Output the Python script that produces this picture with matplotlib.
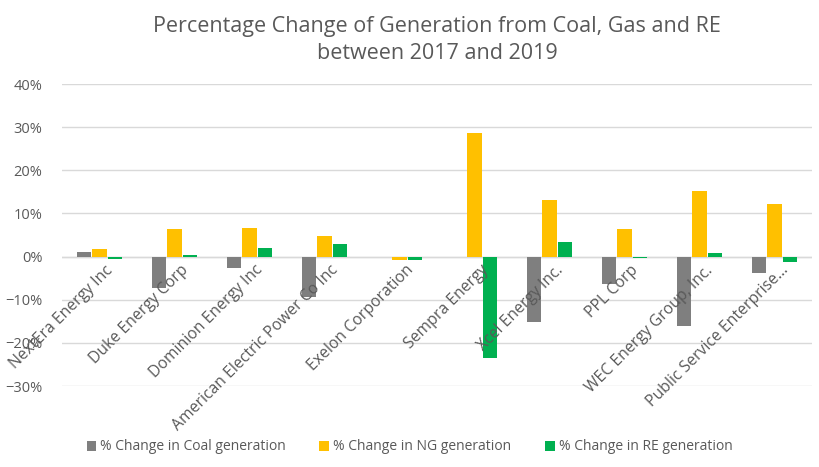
import numpy as np
from matplotlib import pyplot as plt
from matplotlib.ticker import PercentFormatter

plt.rcParams['font.family'] = ['Open Sans', 'DejaVu Sans']

companies = ['NextEra Energy Inc', 'Duke Energy Corp', 'Dominion Energy Inc',
             'American Electric Power Co Inc', 'Exelon Corporation', 'Sempra Energy',
             'Xcel Energy Inc.', 'PPL Corp', 'WEC Energy Group, Inc.',
             'Public Service Enterprise...']
coal = [1.1, -7.3, -2.7, -9.4, 0.0, 0.0, -15.1, -6.3, -16.0, -3.8]
ng = [1.7, 6.3, 6.6, 4.8, -0.8, 28.7, 13.0, 6.3, 15.3, 12.3]
re = [-0.5, 0.3, 2.0, 2.9, -0.8, -23.5, 3.3, -0.3, 0.8, -1.3]

labels = ['% Change in Coal generation', '% Change in NG generation',
          '% Change in RE generation']
colors = ['#7F7F7F', '#FFC000', '#00B050']
grey = '#595959'

#---- Figure

fig = plt.figure(figsize=(8.19, 4.67), dpi=100)
ax = fig.add_axes([62 / 819, 1 - 386 / 467, 750 / 819, (386 - 84) / 467])

x = np.arange(len(companies))
w = 0.187
step = 0.213
for k, (vals, lab, col) in enumerate(zip([coal, ng, re], labels, colors)):
    ax.bar(x + (k - 1) * step, vals, width=w, color=col, label=lab, zorder=3)

ax.set_xlim(-0.5, len(companies) - 0.5)
ax.set_ylim(-30, 40)
ax.set_yticks(np.arange(-30, 41, 10))
ax.yaxis.set_major_formatter(PercentFormatter(decimals=0))
ax.tick_params(axis='y', length=0, labelsize=10.5, labelcolor=grey, pad=14)
ax.set_xticks([])
ax.grid(axis='y', color='#D9D9D9', linewidth=1, zorder=0)
for s in ax.spines.values():
    s.set_visible(False)
ax.axhline(0, color='#D9D9D9', linewidth=1, zorder=2)

# category labels rotated at the zero line
for i, name in enumerate(companies):
    ax.annotate(name, xy=(i, 0), xytext=(4, -4), textcoords='offset points',
                rotation=45, ha='right', va='top', rotation_mode='anchor',
                fontsize=11.3, color=grey, zorder=4)

ax.set_title('Percentage Change of Generation from Coal, Gas and RE\nbetween 2017 and 2019',
             fontsize=15.5, color=grey, pad=18, linespacing=1.4)

fig.legend(loc='center', bbox_to_anchor=(0.5, 1 - 447 / 467), ncol=3, frameon=False,
           fontsize=10, labelcolor=grey, handlelength=0.7, handleheight=0.7,
           handletextpad=0.3, columnspacing=2.4)

fig.savefig('out.png', dpi=100)
